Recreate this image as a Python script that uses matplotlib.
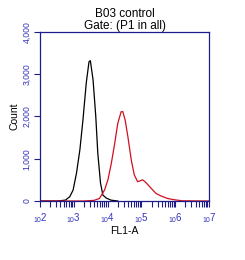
import numpy as np
import matplotlib
matplotlib.use("Agg")
import matplotlib.pyplot as plt
from matplotlib.ticker import LogLocator, FixedLocator, NullFormatter

plt.rcParams['font.family'] = ['Liberation Sans', 'DejaVu Sans']
plt.rcParams['mathtext.fontset'] = 'custom'
plt.rcParams['mathtext.rm'] = 'Liberation Sans'
plt.rcParams['mathtext.it'] = 'Liberation Sans'

title = "B03 control\nGate: (P1 in all)"
xlabel = "FL1-A"
ylabel = "Count"

# log10(FL1-A) and counts
black_logx = [2.0, 2.5, 2.75, 2.88, 2.98, 3.08, 3.18, 3.27, 3.37, 3.45, 3.49, 3.57, 3.65, 3.71, 3.79, 3.86, 3.96, 4.1, 4.3]
black_cnt  = [0, 0, 20, 100, 260, 660, 1210, 1910, 2800, 3290, 3315, 2860, 2000, 1130, 425, 140, 70, 20, 0]

red_logx = [2.0, 3.3, 3.6, 3.76, 3.91, 4.01, 4.11, 4.21, 4.30, 4.40, 4.45, 4.52, 4.60, 4.70, 4.79, 4.89,
            5.04, 5.14, 5.29, 5.43, 5.58, 5.77, 5.97, 6.2, 7.0]
red_cnt  = [0, 0, 15, 60, 260, 500, 890, 1360, 1830, 2110, 2110, 1910, 1520, 970, 615, 455,
            500, 430, 300, 180, 120, 60, 30, 5, 0]

yticks = [0, 1000, 2000, 3000, 4000]
ytick_labels = ["0", "1,000", "2,000", "3,000", "4,000"]
decades = [2, 3, 4, 5, 6, 7]

navy = "#1c1c8a"
tickc = "#3333bb"

fig = plt.figure(figsize=(2.45, 2.6), dpi=100)
ax = fig.add_axes([40/245, 1-201/260, 169/245, 169.3/260])

ax.plot(10.0**np.array(black_logx), black_cnt, color="black", lw=0.9)
ax.plot(10.0**np.array(red_logx), red_cnt, color="#d01020", lw=0.9)

ax.set_xscale("log")
ax.set_xlim(1e2, 1e7)
ax.set_ylim(0, 4000)

ax.xaxis.set_major_locator(FixedLocator([10.0**d for d in decades]))
ax.set_xticklabels([r"$\mathregular{_{10}}$%d" % d for d in decades])
ax.xaxis.set_minor_locator(LogLocator(base=10, subs=np.arange(2, 10), numticks=20))
ax.xaxis.set_minor_formatter(NullFormatter())

ax.set_yticks(yticks)
ax.set_yticklabels(ytick_labels, rotation=90, va="center")

for s in ax.spines.values():
    s.set_color(navy)
    s.set_linewidth(0.9)

ax.tick_params(axis="x", which="major", direction="out", length=4, width=0.8, color=navy,
               labelsize=7, labelcolor=tickc, pad=3)
ax.tick_params(axis="x", which="minor", direction="out", length=4, width=0.8, color=navy)
ax.tick_params(axis="y", which="major", direction="out", length=4, width=0.8, color=navy,
               labelsize=6.2, labelcolor=tickc, pad=2)

ax.set_title(title, fontsize=8.5, pad=2, linespacing=0.95)
ax.set_xlabel(xlabel, fontsize=7.5, labelpad=1)
ax.set_ylabel(ylabel, fontsize=7.5, labelpad=2)

fig.savefig("out.png", dpi=100)
